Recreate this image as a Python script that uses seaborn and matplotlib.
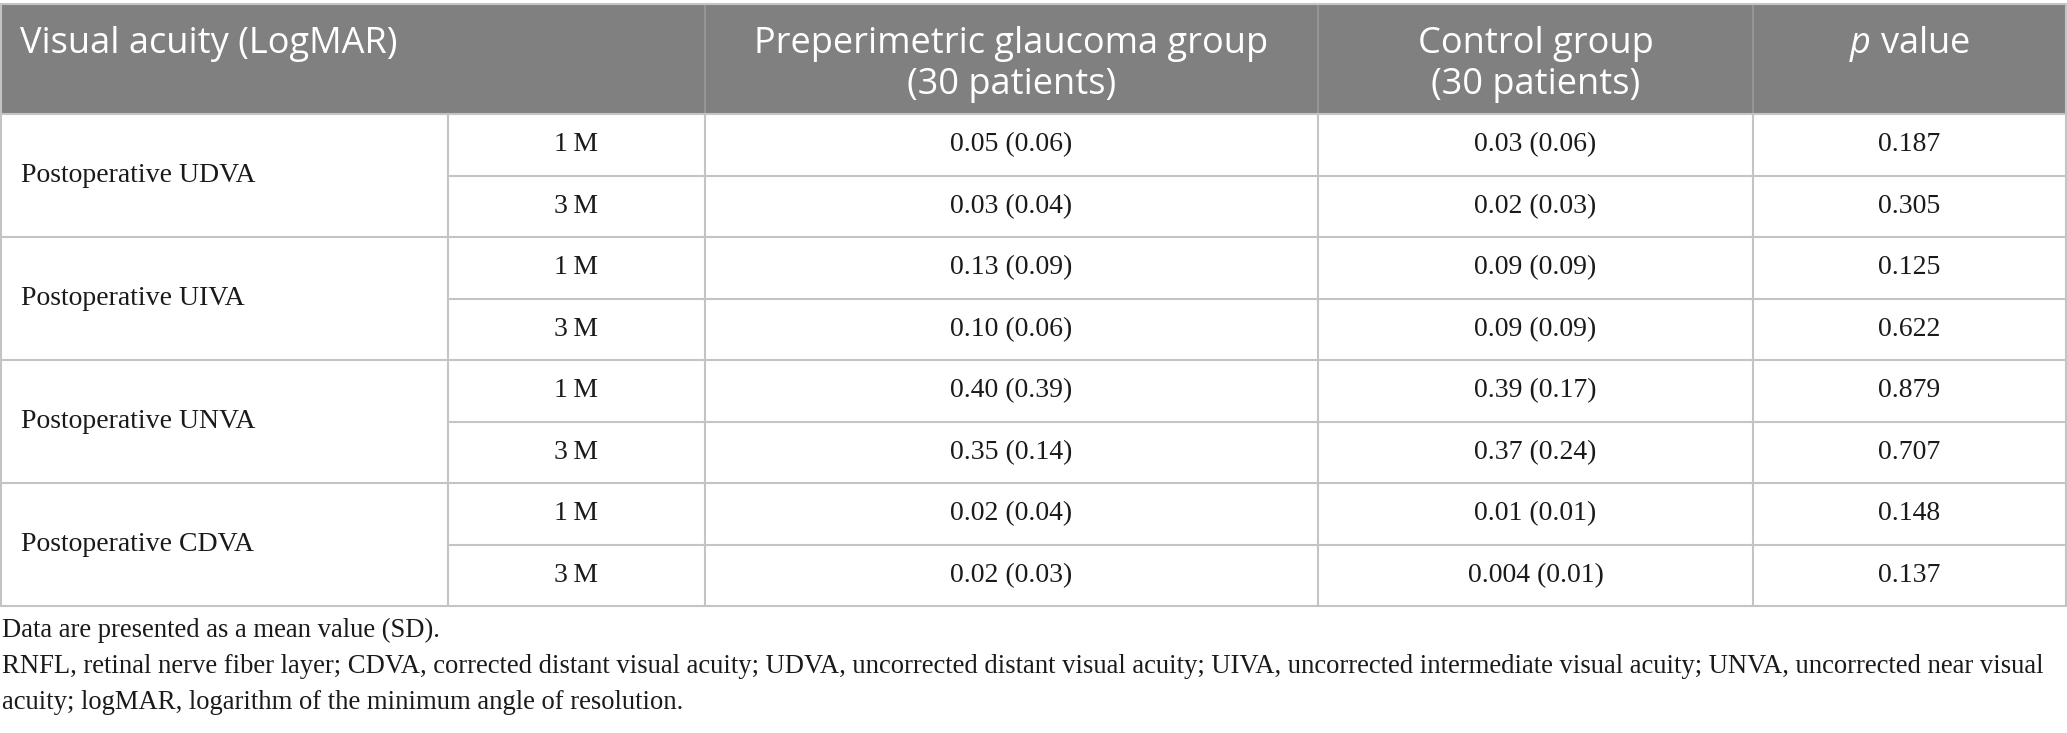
# visual_acuity_table.py
'''Postoperative visual acuity table, drawn with seaborn/matplotlib'''

import matplotlib.pyplot as plt
import seaborn as sns

# table contents
header_labels = ['Visual acuity (LogMAR)',
                 'Preperimetric glaucoma group\n(30 patients)',
                 'Control group\n(30 patients)',
                 r'$\it{p}$ value']
measures = ['Postoperative UDVA', 'Postoperative UIVA',
            'Postoperative UNVA', 'Postoperative CDVA']
timepoints = ['1\u2009M', '3\u2009M']
glaucoma_group = ['0.05 (0.06)', '0.03 (0.04)', '0.13 (0.09)', '0.10 (0.06)',
                  '0.40 (0.39)', '0.35 (0.14)', '0.02 (0.04)', '0.02 (0.03)']
control_group = ['0.03 (0.06)', '0.02 (0.03)', '0.09 (0.09)', '0.09 (0.09)',
                 '0.39 (0.17)', '0.37 (0.24)', '0.01 (0.01)', '0.004 (0.01)']
p_values = ['0.187', '0.305', '0.125', '0.622',
            '0.879', '0.707', '0.148', '0.137']
footnotes = ['Data are presented as a mean value (SD).',
             'RNFL, retinal nerve fiber layer; CDVA, corrected distant visual '
             'acuity; UDVA, uncorrected distant visual acuity; UIVA, '
             'uncorrected intermediate visual acuity; UNVA, uncorrected near '
             'visual',
             'acuity; logMAR, logarithm of the minimum angle of resolution.']

sns.set_theme(style='white')
plt.rcParams['mathtext.fontset'] = 'custom'
plt.rcParams['mathtext.rm'] = 'Open Sans'
plt.rcParams['mathtext.it'] = 'Open Sans:italic'

# layout in pixels
W, H = 2067, 733
col_edges = [1, 448, 705, 1318, 1753, 2066]
top, header_bottom, row_h = 4, 114, 61.5
n_rows = len(glaucoma_group)
bottom = header_bottom + n_rows * row_h
line_color = '#c4c4c4'
header_color = '#808080'
text_color = '#1a1a1a'
serif = 'Liberation Serif'
sans = 'Open Sans'

figure = plt.figure(figsize=(W / 100, H / 100), dpi=100)
axes = figure.add_axes([0, 0, 1, 1])
axes.set_xlim(0, W)
axes.set_ylim(H, 0)
axes.axis('off')

# header band
axes.add_patch(plt.Rectangle((col_edges[0], top), col_edges[-1] - col_edges[0],
                             header_bottom - top, color=header_color, lw=0))
for x in col_edges[2:-1]:
    axes.plot([x, x], [top, header_bottom], color='#9a9a9a', lw=1.2)


def header_text(x, label, ha):
    '''Draws a header label one line at a time.'''
    for i, line in enumerate(label.split('\n')):
        axes.text(x, 53 + i * 41, line, ha=ha, va='baseline', color='white',
                  family=sans, fontsize=26)


header_text(20, header_labels[0], 'left')
for i, label in enumerate(header_labels[1:]):
    header_text((col_edges[i + 2] + col_edges[i + 3]) / 2, label, 'center')

# grid lines
axes.plot([col_edges[0], col_edges[-1]], [top, top], color=line_color, lw=1.5)
for r in range(n_rows + 1):
    y = header_bottom + r * row_h
    x0 = col_edges[0] if r % 2 == 0 else col_edges[1]
    axes.plot([x0, col_edges[-1]], [y, y], color=line_color, lw=1.5)
for x in col_edges:
    axes.plot([x, x], [header_bottom, bottom], color=line_color, lw=1.5)
for x in (col_edges[0], col_edges[-1]):
    axes.plot([x, x], [top, header_bottom], color=line_color, lw=1.5)

# body text
for m, measure in enumerate(measures):
    y = header_bottom + (2 * m + 1) * row_h
    axes.text(21, y, measure, ha='left', va='center', family=serif,
              fontsize=20, color=text_color)
columns = [glaucoma_group, control_group, p_values]
for r in range(n_rows):
    y = header_bottom + (r + 0.5) * row_h
    axes.text((col_edges[1] + col_edges[2]) / 2, y, timepoints[r % 2],
              ha='center', va='center', family=serif, fontsize=20,
              color=text_color)
    for c, values in enumerate(columns):
        cx = (col_edges[c + 2] + col_edges[c + 3]) / 2
        axes.text(cx, y, values[r], ha='center', va='center', family=serif,
                  fontsize=20, color=text_color)

# footnotes
for i, note in enumerate(footnotes):
    axes.text(2, 637 + i * 36, note, ha='left', va='baseline', family=serif,
              fontsize=19.2, color=text_color)

figure.savefig('out.png', dpi=100, facecolor='white')
